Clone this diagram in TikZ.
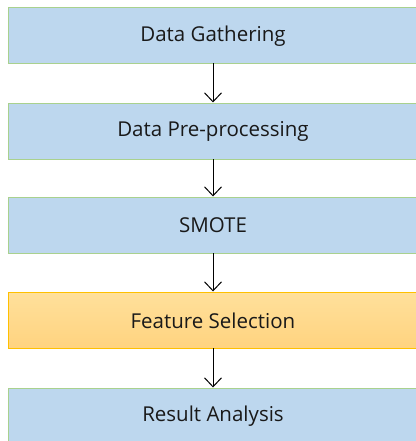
\documentclass[tikz,border=0pt]{standalone}
\usepackage{fontspec}
\setmainfont{Open Sans}
\usetikzlibrary{arrows.meta}
\definecolor{boxblue}{HTML}{BDD7EE}
\definecolor{boxgreen}{HTML}{A9D18E}
\definecolor{orangetop}{HTML}{FFE09B}
\definecolor{orangebot}{HTML}{FFD37F}
\definecolor{orangeline}{HTML}{FFC000}
\tikzset{
  stepbox/.style={draw=boxgreen, line width=1pt, fill=boxblue, minimum width=414pt, minimum height=56pt, anchor=north west, inner sep=0pt},
  hotbox/.style={draw=orangeline, line width=0.8pt, top color=orangetop, bottom color=orangebot, minimum width=414pt, minimum height=56pt, anchor=north west, inner sep=0pt},
  flow/.style={draw=black, line width=1pt, -{Straight Barb[length=9pt,width=17pt,line width=1pt]}},
  lbl/.style={font=\fontsize{20.5pt}{24pt}\selectfont, text=black!90}
}
\begin{document}
\begin{tikzpicture}[x=1pt,y=-1pt]
\useasboundingbox (0,0) rectangle (415,441);
\node[stepbox] (b1) at (8,7) {};
\node[stepbox] (b2) at (8,103) {};
\node[stepbox] (b3) at (8,197) {};
\node[hotbox] (b4) at (8,292) {};
\node[stepbox] (b5) at (8,388) {};
\node[lbl] (t1) at (213,36) {Data Gathering};
\node[lbl] (t2) at (213,131) {Data Pre-processing};
\node[lbl] (t3) at (213,225) {SMOTE};
\node[lbl] (t4) at (213,321) {Feature Selection};
\node[lbl] (t5) at (213,416) {Result Analysis};
\coordinate (a1) at (213,63);
\coordinate (e1) at (213,102.5);
\coordinate (a2) at (213,159);
\coordinate (e2) at (213,196.5);
\coordinate (a3) at (213,253);
\coordinate (e3) at (213,291.5);
\coordinate (a4) at (213,348);
\coordinate (e4) at (213,387.5);
\draw[flow] (a1) -- (e1);
\draw[flow] (a2) -- (e2);
\draw[flow] (a3) -- (e3);
\draw[flow] (a4) -- (e4);
\end{tikzpicture}
\end{document}
